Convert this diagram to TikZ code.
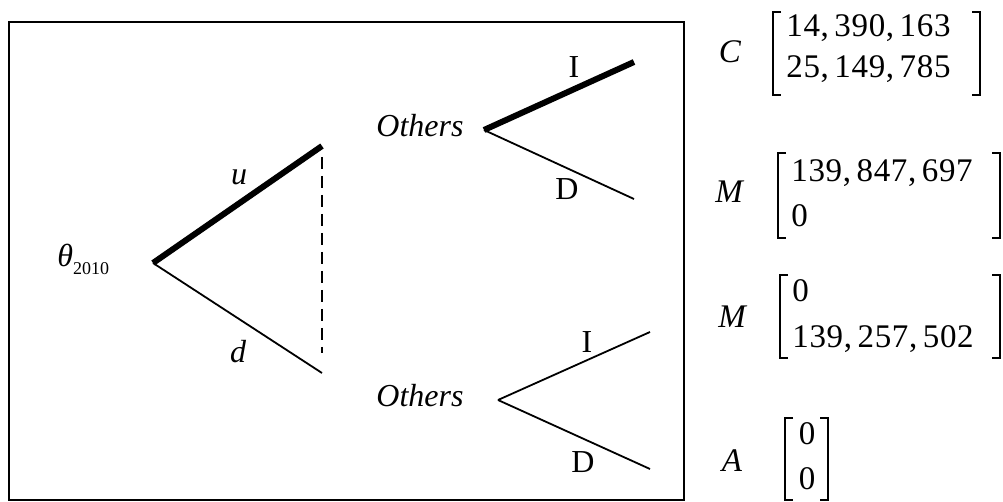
\documentclass[tikz,border=0pt]{standalone}
\usepackage{fontspec}
\setmainfont{Liberation Serif}
\newfontfamily\entryfont[LetterSpace=2]{Liberation Serif}
\tikzset{thinbranch/.style={line width=0.9pt}}
\tikzset{thickbranch/.style={line width=3pt}}
\tikzset{infoset/.style={line width=1.2pt, dash pattern=on 6pt off 3.5pt}}
\tikzset{treelbl/.style={inner sep=0pt, font=\fontsize{16}{16}\selectfont\itshape}}
\tikzset{actlbl/.style={inner sep=0pt, font=\fontsize{16}{16}\selectfont}}
\tikzset{varlbl/.style={inner sep=0pt, font=\fontsize{16.5}{16.5}\selectfont\itshape}}
\tikzset{entry/.style={inner sep=0pt, font=\fontsize{16.5}{16.5}\entryfont}}
\tikzset{brk/.style={line width=0.6pt}}
% left x, right x, top y, bottom y
\newcommand{\mbrackets}[4]{%
  \draw[brk] (#1+8,#3) -- (#1,#3) -- (#1,#4) -- (#1+8,#4);
  \draw[brk] (#2-8,#3) -- (#2,#3) -- (#2,#4) -- (#2-8,#4);}

\begin{document}
\begin{tikzpicture}[x=0.5pt,y=-0.5pt]
  \useasboundingbox (0,0) rectangle (1003,502);
  \draw[line width=0.8pt] (9,22) rectangle (684,500);

  % first stage
  \coordinate (root) at (153,263);
  \coordinate (up) at (322,146);
  \coordinate (dn) at (322,373);
  \node[anchor=base west, inner sep=0pt, font=\fontsize{16}{16}\selectfont] (theta) at (57,267)
    {\textit{θ}\raisebox{-4pt}{\fontsize{9}{9}\selectfont 2010}};
  \draw[thickbranch] (root) -- (up);
  \draw[thinbranch] (root) -- (dn);
  \draw[infoset, shorten <=5.5pt, shorten >=10pt] (up) -- (dn);
  \node[treelbl, anchor=base] (ulbl) at (239,185) {u};
  \node[treelbl, anchor=base] (dlbl) at (238,363) {d};

  % second stage
  \coordinate (oth1) at (484,130);
  \coordinate (oth1i) at (634,62);
  \coordinate (oth1d) at (634,199);
  \coordinate (oth2) at (498,400);
  \coordinate (oth2i) at (650,332);
  \coordinate (oth2d) at (650,469);
  \node[treelbl, anchor=base east] (othlbl1) at (464,137) {Others};
  \node[treelbl, anchor=base east] (othlbl2) at (464,407) {Others};
  \draw[thickbranch] (oth1) -- (oth1i);
  \draw[thinbranch] (oth1) -- (oth1d);
  \draw[thinbranch] (oth2) -- (oth2i);
  \draw[thinbranch] (oth2) -- (oth2d);
  \node[actlbl, anchor=base] (ilbl1) at (574,78) {I};
  \node[actlbl, anchor=base] (dlbl1) at (567,200) {D};
  \node[actlbl, anchor=base] (ilbl2) at (587,353) {I};
  \node[actlbl, anchor=base] (dlbl2) at (583,473) {D};

  % payoffs
  \node[varlbl, anchor=base] (cvar) at (730,63) {C};
  \node[entry, anchor=base west] (c1) at (786,37) {14,\,390,\,163};
  \node[entry, anchor=base west] (c2) at (786,78) {25,\,149,\,785};
  \mbrackets{773}{980}{12}{95}

  \node[varlbl, anchor=base] (mvar1) at (729,203) {M};
  \node[entry, anchor=base west] (ma1) at (791,182) {139,\,847,\,697};
  \node[entry, anchor=base west] (ma2) at (791,227) {0};
  \mbrackets{778}{1000}{153}{238}

  \node[varlbl, anchor=base] (mvar2) at (732,328) {M};
  \node[entry, anchor=base west] (mb1) at (792,302) {0};
  \node[entry, anchor=base west] (mb2) at (792,348) {139,\,257,\,502};
  \mbrackets{780}{1000}{275}{358}

  \node[varlbl, anchor=base] (avar) at (732,472) {A};
  \node[entry, anchor=base] (a1) at (807,445) {0};
  \node[entry, anchor=base] (a2) at (807,490) {0};
  \mbrackets{785}{828}{418}{500}
\end{tikzpicture}
\end{document}
